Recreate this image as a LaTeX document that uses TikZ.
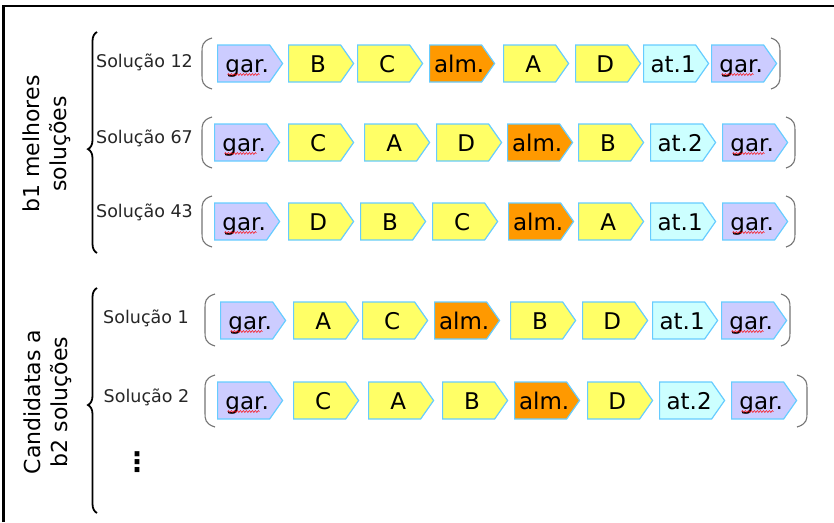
\documentclass[tikz,border=0pt]{standalone}
\usepackage{fontspec}
\setmainfont{DejaVu Sans}
\usetikzlibrary{shapes.symbols,decorations.pathreplacing,decorations.pathmorphing}
\definecolor{garfill}{HTML}{CCCCFF}
\definecolor{letfill}{HTML}{FFFF66}
\definecolor{almfill}{HTML}{FF9900}
\definecolor{atfill}{HTML}{CCFFFF}
\definecolor{bordo}{HTML}{66CCFF}
\tikzset{
  gene/.style={signal, signal to=east, signal pointer angle=110, draw=bordo,
    line width=1.2pt, minimum height=37pt, minimum width=65pt,
    inner xsep=0pt, inner ysep=1pt, text height=18pt, text depth=0pt,
    anchor=west, font=\fontsize{23}{23}\selectfont,
    execute at begin node=\hspace*{3.5pt}, execute at end node=\hspace*{-3.5pt}},
  garbox/.style={gene, fill=garfill},
  letbox/.style={gene, fill=letfill},
  almbox/.style={gene, fill=almfill},
  atbox/.style={gene, fill=atfill},
  rotulo/.style={font=\fontsize{17.5}{17.5}\selectfont, text=black!85},
  grupo/.style={font=\fontsize{22}{27}\selectfont, rotate=90, align=center},
  chave/.style={decorate, decoration={brace, amplitude=9pt}, line width=1.8pt},
  parente/.style={draw=black!55, line width=1.1pt},
  erro/.style={draw=red, line width=0.5pt, decorate,
    decoration={snake, segment length=3pt, amplitude=0.9pt}},
}
% parenteses: x da ponta, x do bojo, y de cima, y de baixo
\newcommand{\parenE}[4]{\draw[parente] (#1,#3) .. controls (#2,#3+3) and (#2,#3+8) .. (#2,#3+14)
  -- (#2,#4-14) .. controls (#2,#4-8) and (#2,#4-3) .. (#1,#4);}
\begin{document}
\begin{tikzpicture}[x=1pt, y=-1pt]
\useasboundingbox (0,0) rectangle (834,522);
\draw[line width=2.5pt] (3.5,522) -- (3.5,6) -- (834,6);

% grupos
\node[grupo] (g1) at (47,144) {b1 melhores\\soluções};
\node[grupo] (g2) at (48,402) {Candidatas a\\b2 soluções};
\draw[chave, decoration={aspect=0.47}] (97,253) -- (97,32);
\draw[chave, decoration={aspect=0.48}] (97,513) -- (97,288);

% rotulos
\node[rotulo] (s12) at (144.5,62) {Solução 12};
\node[rotulo] (s67) at (144.5,138) {Solução 67};
\node[rotulo] (s43) at (144.5,212) {Solução 43};
\node[rotulo] (s1) at (146,318) {Solução 1};
\node[rotulo] (s2) at (146.5,397) {Solução 2};
\node[font=\fontsize{27}{27}\selectfont\bfseries, inner sep=0pt] (pontos) at (137,462) {⋮};

% linha 1
\foreach \t/\s/\x [count=\i] in {gar./garbox/217, B/letbox/288, C/letbox/357,
    alm./almbox/429, A/letbox/503, D/letbox/575, at.1/atbox/643, gar./garbox/711}
  \node[\s] (a-\i) at (\x,63.5) {\t};
% linha 2
\foreach \t/\s/\x [count=\i] in {gar./garbox/214, C/letbox/288, A/letbox/364,
    D/letbox/436, alm./almbox/507, B/letbox/578, at.2/atbox/650, gar./garbox/722}
  \node[\s] (b-\i) at (\x,142.5) {\t};
% linha 3
\foreach \t/\s/\x [count=\i] in {gar./garbox/214, D/letbox/288, B/letbox/360,
    C/letbox/432, alm./almbox/508, A/letbox/578, at.1/atbox/650, gar./garbox/722}
  \node[\s] (c-\i) at (\x,221.5) {\t};
% linha 4
\foreach \t/\s/\x [count=\i] in {gar./garbox/220, A/letbox/293, C/letbox/362,
    alm./almbox/434, B/letbox/510, D/letbox/582, at.1/atbox/652, gar./garbox/721}
  \node[\s] (d-\i) at (\x,320.5) {\t};
% linha 5
\foreach \t/\s/\x [count=\i] in {gar./garbox/217, C/letbox/293, A/letbox/368,
    B/letbox/442, alm./almbox/514, D/letbox/587, at.2/atbox/659, gar./garbox/731}
  \node[\s] (e-\i) at (\x,400.5) {\t};

% sublinhado do corretor
\foreach \l in {a,b,c,d,e}
  \foreach \i in {1,8}
    \draw[erro] ([xshift=5.5pt,yshift=-2pt]\l-\i.text) -- ([xshift=37.5pt,yshift=-2pt]\l-\i.text);

% parenteses
\parenE{212}{202}{38}{89}
\parenE{212}{202}{117}{168}
\parenE{212}{202}{196}{247}
\parenE{215}{205}{294}{346}
\parenE{215}{205}{375}{427}
\parenE{771}{780}{38}{89}
\parenE{786}{795}{117}{168}
\parenE{786}{795}{196}{247}
\parenE{781}{790}{294}{346}
\parenE{797}{807}{375}{427}
\end{tikzpicture}
\end{document}
